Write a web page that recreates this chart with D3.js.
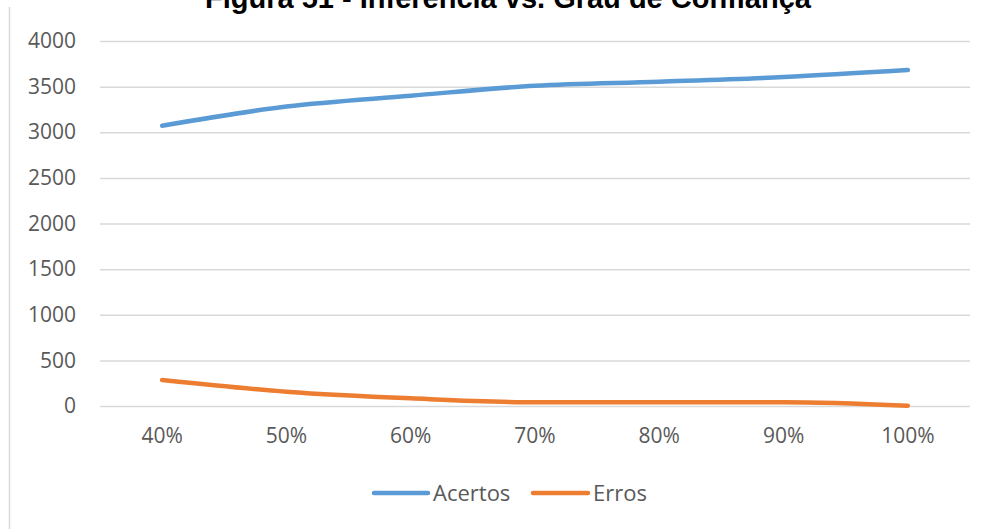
<!DOCTYPE html>
<html>
<head>
<meta charset="utf-8">
<script src="https://cdn.jsdelivr.net/npm/d3@7/dist/d3.min.js"></script>
<style>
  html, body { margin: 0; padding: 0; background: #fff; }
  svg { display: block; }
</style>
</head>
<body>
<svg id="chart" width="987" height="529"></svg>
<script>
const title = "Figura 51 - Inferência vs. Grau de Confiança";
const categories = ["40%", "50%", "60%", "70%", "80%", "90%", "100%"];
const acertos = [3072, 3282, 3400, 3510, 3554, 3605, 3682];
const erros = [285, 157, 84, 41, 41, 41, 3];
const yTicks = [0, 500, 1000, 1500, 2000, 2500, 3000, 3500, 4000];
const seriesNames = ["Acertos", "Erros"];
const seriesColors = ["#5B9BD5", "#ED7D31"];

const series = [
  { name: seriesNames[0], values: acertos, color: seriesColors[0] },
  { name: seriesNames[1], values: erros, color: seriesColors[1] }
];

const svg = d3.select("#chart");
const font = "'Open Sans', 'Liberation Sans', Arial, sans-serif";
const textColor = "#595959";

const x = d3.scaleBand().domain(categories).range([100, 970]);
const y = d3.scaleLinear().domain([0, 4000]).range([406, 41]);

// chart frame left edge
svg.append("line")
  .attr("x1", 9.5).attr("x2", 9.5).attr("y1", 7).attr("y2", 529)
  .attr("stroke", "#d9d9d9").attr("stroke-width", 1.5);

// title (partly cut off at top)
svg.append("text")
  .attr("x", 508).attr("y", 8)
  .attr("text-anchor", "middle")
  .attr("font-family", "'Liberation Sans', Arial, sans-serif")
  .attr("font-weight", "bold")
  .attr("font-size", 29)
  .attr("fill", "#000")
  .text(title);

// gridlines
const yAxis = d3.axisLeft(y).tickValues(yTicks).tickSize(-870).tickPadding(24).tickFormat(d3.format("d"));
const gy = svg.append("g").attr("transform", "translate(100,0)").call(yAxis);
gy.select(".domain").remove();
gy.selectAll(".tick line").attr("stroke", "#d9d9d9").attr("stroke-width", 1.5);
gy.selectAll(".tick text")
  .attr("fill", textColor)
  .attr("font-family", font)
  .attr("font-size", 21);

// x axis labels
const xAxis = d3.axisBottom(x).tickSize(0).tickPadding(22);
const gx = svg.append("g").attr("transform", "translate(0,406)").call(xAxis);
gx.select(".domain").remove();
gx.selectAll(".tick text")
  .attr("fill", textColor)
  .attr("font-family", font)
  .attr("font-size", 21);

// lines
const line = d3.line()
  .x((d, i) => x(categories[i]) + x.bandwidth() / 2)
  .y(d => y(d))
  .curve(d3.curveMonotoneX);

svg.selectAll(".series")
  .data(series)
  .enter().append("path")
  .attr("class", "series")
  .attr("d", d => line(d.values))
  .attr("fill", "none")
  .attr("stroke", d => d.color)
  .attr("stroke-width", 4.5)
  .attr("stroke-linecap", "round")
  .attr("stroke-linejoin", "round");

// legend
const legendY = 493;
const legendItems = [
  { name: seriesNames[0], color: seriesColors[0], x1: 374, x2: 428, tx: 433 },
  { name: seriesNames[1], color: seriesColors[1], x1: 533, x2: 588, tx: 593 }
];
const lg = svg.append("g");
legendItems.forEach(it => {
  lg.append("line")
    .attr("x1", it.x1).attr("x2", it.x2).attr("y1", legendY).attr("y2", legendY)
    .attr("stroke", it.color).attr("stroke-width", 4.5).attr("stroke-linecap", "round");
  lg.append("text")
    .attr("x", it.tx).attr("y", legendY)
    .attr("dy", "0.35em")
    .attr("fill", textColor)
    .attr("font-family", font)
    .attr("font-size", 22)
    .text(it.name);
});
</script>
</body>
</html>
